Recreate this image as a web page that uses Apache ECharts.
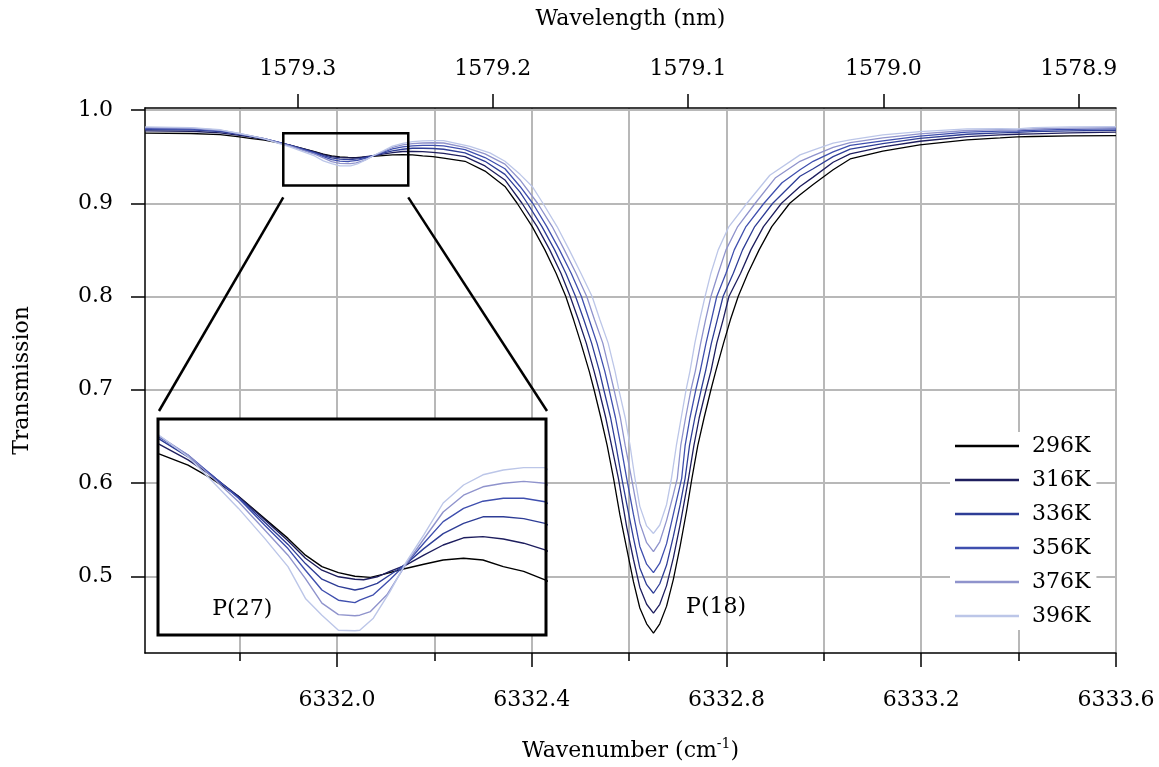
<!DOCTYPE html>
<html><head><meta charset="utf-8">
<script src="https://cdn.jsdelivr.net/npm/echarts@6/dist/echarts.min.js"></script>
<style>html,body{margin:0;padding:0;background:#fff}#c{width:1159px;height:767px}</style>
</head><body><div id="c"></div>
<script>
// ---- data ----
const temps = ['296K','316K','336K','356K','376K','396K'];
const colors = ['#000000','#1e1e5e','#2e3d96','#3f4fae','#8f93cc','#bcc6e8'];

const s296 = [[6331.606,0.9752],[6331.70,0.9748],[6331.76,0.9735],[6331.80,0.9712],
[6331.821,0.9695],[6331.851,0.9676],[6331.875,0.9654],[6331.903,0.9624],[6331.930,0.9587],[6331.954,0.9554],[6331.972,0.9526],[6331.989,0.9507],[6332.006,0.9497],[6332.023,0.9491],[6332.039,0.9489],[6332.052,0.9494],[6332.073,0.9503],[6332.094,0.9511],[6332.114,0.9518],[6332.135,0.9521],[6332.155,0.9518],[6332.176,0.9507],[6332.197,0.9499],[6332.219,0.9485],
[6332.263,0.9450],[6332.304,0.9345],[6332.345,0.9180],[6332.370,0.9000],
[6332.401,0.875],[6332.427,0.850],[6332.450,0.825],[6332.470,0.800],[6332.486,0.775],[6332.501,0.750],[6332.518,0.720],[6332.528,0.700],[6332.542,0.670],[6332.555,0.640],[6332.568,0.605],
[6332.581,0.566],[6332.595,0.530],[6332.609,0.494],[6332.622,0.466],[6332.636,0.449],[6332.650,0.4391],[6332.663,0.449],[6332.677,0.468],[6332.691,0.497],[6332.705,0.533],[6332.718,0.570],[6332.729,0.605],
[6332.741,0.640],[6332.754,0.670],[6332.768,0.700],[6332.778,0.720],[6332.794,0.750],[6332.808,0.775],[6332.824,0.800],[6332.844,0.825],[6332.867,0.850],[6332.893,0.875],[6332.930,0.900],
[6332.951,0.909],[6332.978,0.920],[6333.019,0.936],[6333.054,0.9475],[6333.121,0.956],[6333.197,0.9626],[6333.294,0.968],[6333.362,0.970],[6333.397,0.9712],[6333.430,0.9716],[6333.506,0.9722],[6333.600,0.9725]];

const s316 = [[6331.606,0.9776],[6331.70,0.9772],[6331.76,0.9755],[6331.80,0.9728],
[6331.821,0.9711],[6331.851,0.9685],[6331.875,0.9659],[6331.903,0.9624],[6331.930,0.9585],[6331.954,0.9550],[6331.972,0.9521],[6331.989,0.9501],[6332.006,0.9490],[6332.023,0.9486],[6332.032,0.9485],[6332.046,0.9490],[6332.059,0.9499],[6332.076,0.9510],[6332.094,0.9526],[6332.114,0.9543],[6332.135,0.9555],[6332.155,0.9557],[6332.176,0.9553],[6332.197,0.9546],[6332.219,0.9535],
[6332.263,0.950],[6332.304,0.940],[6332.345,0.925],[6332.380,0.900],
[6332.411,0.875],[6332.437,0.850],[6332.460,0.825],[6332.479,0.800],[6332.496,0.775],[6332.512,0.750],[6332.528,0.720],[6332.538,0.700],[6332.552,0.670],[6332.564,0.640],[6332.578,0.605],
[6332.595,0.553],[6332.609,0.518],[6332.622,0.488],[6332.636,0.470],[6332.650,0.4605],[6332.663,0.470],[6332.677,0.490],[6332.691,0.520],[6332.705,0.556],[6332.722,0.605],
[6332.733,0.640],[6332.744,0.670],[6332.758,0.700],[6332.768,0.720],[6332.780,0.750],[6332.793,0.775],[6332.805,0.800],[6332.829,0.825],[6332.850,0.850],[6332.876,0.875],[6332.913,0.900],
[6332.951,0.918],[6332.978,0.928],[6333.019,0.944],[6333.054,0.953],[6333.121,0.9605],[6333.197,0.9665],[6333.294,0.9715],[6333.362,0.9733],[6333.397,0.974],[6333.430,0.9745],[6333.506,0.9755],[6333.600,0.9762]];

const s336 = [[6331.606,0.9790],[6331.70,0.9786],[6331.76,0.9768],[6331.80,0.9738],
[6331.821,0.9720],[6331.851,0.9690],[6331.875,0.9660],[6331.903,0.9622],[6331.930,0.9581],[6331.954,0.9544],[6331.972,0.9512],[6331.989,0.9486],[6332.006,0.9474],[6332.023,0.9468],[6332.032,0.9471],[6332.046,0.9479],[6332.059,0.9493],[6332.076,0.9512],[6332.094,0.9537],[6332.114,0.9562],[6332.135,0.9579],[6332.155,0.9590],[6332.176,0.9590],[6332.197,0.9587],[6332.219,0.9579],
[6332.263,0.954],[6332.304,0.945],[6332.345,0.931],[6332.376,0.912],[6332.391,0.900],
[6332.421,0.875],[6332.447,0.850],[6332.470,0.825],[6332.490,0.800],[6332.507,0.775],[6332.523,0.750],[6332.539,0.720],[6332.548,0.700],[6332.562,0.670],[6332.573,0.640],[6332.585,0.605],
[6332.595,0.578],[6332.609,0.541],[6332.622,0.509],[6332.636,0.491],[6332.650,0.4818],[6332.663,0.492],[6332.677,0.512],[6332.691,0.543],[6332.705,0.577],[6332.715,0.605],
[6332.724,0.640],[6332.735,0.670],[6332.748,0.700],[6332.757,0.720],[6332.769,0.750],[6332.781,0.775],[6332.793,0.800],[6332.814,0.825],[6332.833,0.850],[6332.858,0.875],[6332.895,0.900],
[6332.951,0.929],[6332.978,0.937],[6333.019,0.950],[6333.054,0.958],[6333.121,0.964],[6333.197,0.9695],[6333.294,0.974],[6333.362,0.9755],[6333.397,0.976],[6333.430,0.9767],[6333.506,0.9776],[6333.600,0.9783]];

const s356 = [[6331.606,0.9800],[6331.70,0.9796],[6331.76,0.9776],[6331.80,0.9742],
[6331.821,0.9723],[6331.851,0.9693],[6331.875,0.9660],[6331.903,0.9621],[6331.930,0.9576],[6331.954,0.9537],[6331.972,0.9501],[6331.989,0.9468],[6332.006,0.9451],[6332.023,0.9447],[6332.028,0.9451],[6332.042,0.9460],[6332.059,0.9485],[6332.076,0.9512],[6332.094,0.9546],[6332.114,0.9582],[6332.135,0.9604],[6332.155,0.9616],[6332.176,0.9621],[6332.197,0.9621],[6332.219,0.9615],
[6332.263,0.9575],[6332.304,0.949],[6332.345,0.937],[6332.376,0.918],[6332.402,0.900],
[6332.431,0.875],[6332.457,0.850],[6332.481,0.825],[6332.502,0.800],[6332.518,0.775],[6332.534,0.750],[6332.550,0.720],[6332.559,0.700],[6332.572,0.670],[6332.583,0.640],[6332.595,0.605],
[6332.609,0.566],[6332.622,0.532],[6332.636,0.513],[6332.650,0.504],[6332.663,0.514],[6332.677,0.535],[6332.691,0.567],[6332.708,0.605],
[6332.715,0.640],[6332.725,0.670],[6332.737,0.700],[6332.746,0.720],[6332.758,0.750],[6332.769,0.775],[6332.780,0.800],[6332.799,0.825],[6332.816,0.850],[6332.840,0.875],[6332.877,0.900],
[6332.914,0.922],[6332.951,0.936],[6332.978,0.945],[6333.019,0.955],[6333.054,0.962],[6333.121,0.967],[6333.197,0.972],[6333.294,0.9762],[6333.362,0.9773],[6333.397,0.9775],[6333.430,0.9783],[6333.506,0.9792],[6333.600,0.9797]];

const s376 = [[6331.606,0.9810],[6331.70,0.9805],[6331.76,0.9783],[6331.80,0.9746],
[6331.821,0.9725],[6331.851,0.9693],[6331.875,0.9657],[6331.903,0.9615],[6331.930,0.9568],[6331.954,0.9526],[6331.972,0.9487],[6331.989,0.9446],[6332.006,0.9427],[6332.023,0.9425],[6332.028,0.9426],[6332.039,0.9432],[6332.056,0.9460],[6332.076,0.9512],[6332.094,0.9553],[6332.114,0.9598],[6332.135,0.9626],[6332.155,0.9640],[6332.176,0.9646],[6332.197,0.9649],[6332.219,0.9646],
[6332.263,0.960],[6332.304,0.953],[6332.345,0.942],[6332.376,0.925],[6332.412,0.900],
[6332.442,0.875],[6332.467,0.850],[6332.491,0.825],[6332.513,0.800],[6332.529,0.775],[6332.546,0.750],[6332.560,0.720],[6332.569,0.700],[6332.582,0.670],[6332.592,0.640],[6332.605,0.605],
[6332.622,0.557],[6332.636,0.536],[6332.650,0.5264],[6332.663,0.537],[6332.677,0.560],[6332.691,0.588],[6332.699,0.605],
[6332.706,0.640],[6332.716,0.670],[6332.727,0.700],[6332.736,0.720],[6332.747,0.750],[6332.757,0.775],[6332.768,0.800],[6332.783,0.825],[6332.799,0.850],[6332.823,0.875],[6332.859,0.900],
[6332.900,0.927],[6332.951,0.945],[6332.978,0.951],[6333.019,0.960],[6333.054,0.965],[6333.121,0.970],[6333.197,0.9745],[6333.294,0.978],[6333.362,0.979],[6333.397,0.9787],[6333.430,0.9798],[6333.506,0.9806],[6333.600,0.9811]];

const s396 = [[6331.606,0.9818],[6331.70,0.9812],[6331.76,0.9788],[6331.80,0.9748],
[6331.821,0.9726],[6331.851,0.9690],[6331.875,0.9651],[6331.903,0.9604],[6331.930,0.9554],[6331.954,0.9507],[6331.972,0.9454],[6331.989,0.9426],[6332.006,0.9401],[6332.023,0.9400],[6332.028,0.9401],[6332.042,0.9421],[6332.059,0.9465],[6332.076,0.9515],[6332.094,0.9560],[6332.114,0.9613],[6332.135,0.9643],[6332.155,0.9660],[6332.176,0.9668],[6332.197,0.9672],[6332.219,0.9672],
[6332.273,0.961],[6332.314,0.954],[6332.345,0.945],[6332.376,0.931],[6332.401,0.918],[6332.423,0.900],
[6332.452,0.875],[6332.477,0.850],[6332.501,0.825],[6332.524,0.800],[6332.540,0.775],[6332.557,0.750],[6332.571,0.720],[6332.579,0.700],[6332.592,0.670],[6332.602,0.640],[6332.612,0.605],
[6332.622,0.575],[6332.636,0.554],[6332.650,0.5459],[6332.663,0.555],[6332.677,0.577],[6332.687,0.605],
[6332.697,0.640],[6332.707,0.670],[6332.717,0.700],[6332.725,0.720],[6332.735,0.750],[6332.745,0.775],[6332.756,0.800],[6332.768,0.825],[6332.783,0.850],[6332.805,0.875],[6332.842,0.900],
[6332.889,0.930],[6332.951,0.9519],[6332.978,0.957],[6333.019,0.9644],[6333.054,0.968],[6333.121,0.9733],[6333.197,0.9768],[6333.294,0.9797],[6333.362,0.9800],[6333.397,0.9797],[6333.430,0.9811],[6333.506,0.9818],[6333.600,0.9822]];

const seriesData = [s296, s316, s336, s356, s376, s396];

const xRange = [6331.6057, 6333.6];
const yRange = [0.41774, 1.00214];
const xGridValues = [6331.8, 6332.0, 6332.2, 6332.4, 6332.6, 6332.8, 6333.0, 6333.2, 6333.4, 6333.6];
const xLabelValues = [6332.0, 6332.4, 6332.8, 6333.2, 6333.6];
const xMinorValues = [6331.8, 6332.2, 6332.6, 6333.0, 6333.4];
const yTickValues = [0.5, 0.6, 0.7, 0.8, 0.9, 1.0];
const wavelengthTicks = [1579.3, 1579.2, 1579.1, 1579.0, 1578.9];
const insetXRange = [6331.82, 6332.22];
const insetYRange = [0.9393, 0.9753];
const boxX = [6331.8897, 6332.1464];
const boxY = [0.9191, 0.9751];
const labelP18 = [6332.717, 0.467];
const labelP27 = [6331.876, 0.9436];

// ---- chart ----
const FONT = 'DejaVu Serif';
const chart = echarts.init(document.getElementById('c'), null, {renderer: 'canvas'});
const wlPos = wavelengthTicks.map(l => 1e7 / l);
const black = {color: '#000', width: 1.5};
const gridLine = {color: '#b8b8b8', width: 2};

const series = [];
temps.forEach((t, i) => {
  series.push({name: t, type: 'line', xAxisIndex: 0, yAxisIndex: 0, data: seriesData[i],
    symbol: 'none', lineStyle: {color: colors[i], width: 1.3}, itemStyle: {color: colors[i]}, z: 3, clip: true});
});
temps.forEach((t, i) => {
  series.push({name: t, type: 'line', xAxisIndex: 2, yAxisIndex: 1, data: seriesData[i],
    symbol: 'none', lineStyle: {color: colors[i], width: 1.4}, itemStyle: {color: colors[i]}, z: 10, clip: true, silent: true});
});

const option = {
  animation: false,
  backgroundColor: '#fff',
  textStyle: {fontFamily: FONT, color: '#000'},
  grid: [
    {left: 145, top: 108, width: 971, height: 547},
    {left: 158, top: 419, width: 388, height: 216}
  ],
  xAxis: [
    {gridIndex: 0, type: 'value', min: xRange[0], max: xRange[1], position: 'bottom',
      axisLine: {show: true, onZero: false, lineStyle: black},
      axisTick: {show: true, length: 14, customValues: xLabelValues, lineStyle: black},
      axisLabel: {customValues: xLabelValues, formatter: v => v.toFixed(1), margin: 36, fontSize: 22, color: '#000', fontFamily: FONT},
      splitLine: {show: false},
      name: 'Wavenumber (cm{sup|-1})', nameLocation: 'middle', nameGap: 84,
      nameTextStyle: {fontSize: 22, color: '#000', fontFamily: FONT,
        rich: {sup: {fontSize: 14, fontFamily: FONT, color: '#000', padding: [0, 0, 14, 0]}}}
    },
    {gridIndex: 0, type: 'value', min: xRange[0], max: xRange[1], position: 'top',
      axisLine: {show: true, onZero: false, lineStyle: black},
      axisTick: {show: true, length: 14, customValues: wlPos, lineStyle: black},
      axisLabel: {customValues: wlPos, formatter: v => (1e7 / v).toFixed(1), margin: 28, fontSize: 22, color: '#000', fontFamily: FONT},
      splitLine: {show: false},
      name: 'Wavelength (nm)', nameLocation: 'middle', nameGap: 78,
      nameTextStyle: {fontSize: 22, color: '#000', fontFamily: FONT}
    },
    {gridIndex: 1, type: 'value', min: insetXRange[0], max: insetXRange[1], show: false},
    {gridIndex: 0, type: 'value', min: xRange[0], max: xRange[1], position: 'bottom', offset: 0,
      axisLine: {show: false},
      axisTick: {show: true, length: 8, customValues: xGridValues, lineStyle: black},
      axisLabel: {show: false},
      splitLine: {show: true, lineStyle: gridLine}
    }
  ],
  yAxis: [
    {gridIndex: 0, type: 'value', min: yRange[0], max: yRange[1],
      axisLine: {show: true, onZero: false, lineStyle: black},
      axisTick: {show: true, length: 14, customValues: yTickValues, lineStyle: black},
      axisLabel: {customValues: yTickValues, formatter: v => v.toFixed(1), margin: 32, fontSize: 22, color: '#000', fontFamily: FONT},
      splitLine: {show: true, lineStyle: gridLine},
      name: 'Transmission', nameLocation: 'middle', nameGap: 112, nameRotate: 90,
      nameTextStyle: {fontSize: 22, color: '#000', fontFamily: FONT}
    },
    {gridIndex: 1, type: 'value', min: insetYRange[0], max: insetYRange[1], show: false}
  ],
  legend: {
    data: temps, orient: 'vertical', left: 950, top: 432,
    icon: 'rect', itemWidth: 64, itemHeight: 2.5, itemGap: 12,
    padding: [3, 6, 3, 5], backgroundColor: '#fff',
    textStyle: {fontSize: 22, color: '#000', fontFamily: FONT, padding: [0, 0, 0, 8], lineHeight: 22},
    selectedMode: false
  },
  series: series
};
chart.setOption(option);

// ---- annotations positioned from data coordinates ----
const P0 = (x, y) => chart.convertToPixel({xAxisIndex: 0, yAxisIndex: 0}, [x, y]);
const P1 = (x, y) => chart.convertToPixel({xAxisIndex: 2, yAxisIndex: 1}, [x, y]);
const bTL = P0(boxX[0], boxY[1]), bBR = P0(boxX[1], boxY[0]);
const iTL = P1(insetXRange[0], insetYRange[1]), iBR = P1(insetXRange[1], insetYRange[0]);
const p18 = P0(labelP18[0], labelP18[1]);
const p27 = P1(labelP27[0], labelP27[1]);
chart.setOption({
  graphic: [
    {type: 'rect', z: 5, silent: true, shape: {x: iTL[0], y: iTL[1], width: iBR[0] - iTL[0], height: iBR[1] - iTL[1]}, style: {fill: '#fff', stroke: null}},
    {type: 'rect', z: 20, silent: true, shape: {x: iTL[0], y: iTL[1], width: iBR[0] - iTL[0], height: iBR[1] - iTL[1]}, style: {fill: null, stroke: '#000', lineWidth: 3}},
    {type: 'rect', z: 20, silent: true, shape: {x: bTL[0], y: bTL[1], width: bBR[0] - bTL[0], height: bBR[1] - bTL[1]}, style: {fill: null, stroke: '#000', lineWidth: 2.5}},
    {type: 'line', z: 20, silent: true, shape: {x1: bTL[0], y1: bBR[1] + 12, x2: iTL[0] + 1, y2: iTL[1] - 8}, style: {stroke: '#000', lineWidth: 2.5}},
    {type: 'line', z: 20, silent: true, shape: {x1: bBR[0], y1: bBR[1] + 12, x2: iBR[0] + 1, y2: iTL[1] - 8}, style: {stroke: '#000', lineWidth: 2.5}},
    {type: 'text', z: 20, silent: true, x: p18[0], y: p18[1], style: {text: 'P(18)', fontSize: 22, fontFamily: FONT, fill: '#000', align: 'left', verticalAlign: 'middle'}},
    {type: 'text', z: 20, silent: true, x: p27[0], y: p27[1], style: {text: 'P(27)', fontSize: 22, fontFamily: FONT, fill: '#000', align: 'left', verticalAlign: 'middle'}}
  ]
});
</script></body></html>
